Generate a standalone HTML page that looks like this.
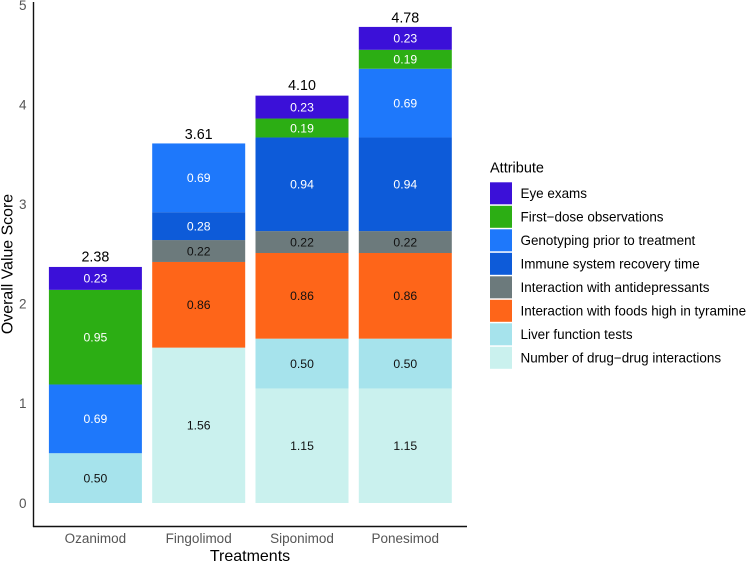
<!DOCTYPE html>
<html>
<head>
<meta charset="utf-8">
<style>
html,body{margin:0;padding:0;background:#fff;}
svg{display:block;font-family:"Liberation Sans",Arial,sans-serif;}
</style>
</head>
<body>
<svg id="chart" width="747" height="562" viewBox="0 0 747 562" xmlns="http://www.w3.org/2000/svg"></svg>
<script>
const treatments = ['Ozanimod', 'Fingolimod', 'Siponimod', 'Ponesimod'];
const attributes = ['Eye exams', 'First\u2212dose observations', 'Genotyping prior to treatment', 'Immune system recovery time', 'Interaction with antidepressants', 'Interaction with foods high in tyramine', 'Liver function tests', 'Number of drug\u2212drug interactions'];
const attributeColors = ['#3b10d8', '#2cae14', '#1e78fb', '#0d5bd9', '#6c7a7c', '#fe6519', '#a6e3ec', '#caf1ee'];
const labelColors = ['#fff', '#fff', '#fff', '#fff', '#111', '#111', '#111', '#111'];
const eyeExams = [0.23, 0, 0.23, 0.23];
const firstDose = [0.95, 0, 0.19, 0.19];
const genotyping = [0.69, 0.69, 0, 0.69];
const immuneRecovery = [0, 0.28, 0.94, 0.94];
const antidepressants = [0, 0.22, 0.22, 0.22];
const tyramine = [0, 0.86, 0.86, 0.86];
const liverTests = [0.50, 0, 0.50, 0.50];
const drugInteractions = [0, 1.56, 1.15, 1.15];
const totals = [2.38, 3.61, 4.10, 4.78];
const yTicks = [0, 1, 2, 3, 4, 5];

const series = [eyeExams, firstDose, genotyping, immuneRecovery, antidepressants, tyramine, liverTests, drugInteractions];
const svg = document.getElementById('chart');
const NS = 'http://www.w3.org/2000/svg';
function add(tag, attrs, text) {
  const el = document.createElementNS(NS, tag);
  for (const k in attrs) el.setAttribute(k, attrs[k]);
  if (text !== undefined) el.textContent = text;
  svg.appendChild(el);
  return el;
}
function y(v) { return 503 - v * 99.6; }
const barWidth = 93;
function xCenter(i) { return 95.4 + i * 103.3; }
function slug(s) { return s.toLowerCase().replace(/[^a-z0-9]+/g, '-'); }

// bars: stacked from bottom (last series) upward
treatments.forEach(function (t, i) {
  let base = 0;
  for (let s = series.length - 1; s >= 0; s--) {
    const v = series[s][i];
    if (!v) continue;
    const rect = add('rect', { x: xCenter(i) - barWidth / 2, y: y(base + v), width: barWidth, height: v * 99.6, fill: attributeColors[s] });
    
    
    const lab = add('text', { x: xCenter(i), y: y(base + v / 2) + 4.3, 'text-anchor': 'middle', 'font-size': 12.2, fill: labelColors[s] }, v.toFixed(2));
    
    
    base += v;
  }
  const total = add('text', { x: xCenter(i), y: y(totals[i]) - 4.5, 'text-anchor': 'middle', 'font-size': 14.3, fill: '#000' }, totals[i].toFixed(2));
  
  
  const tick = add('text', { x: xCenter(i), y: 543, 'text-anchor': 'middle', 'font-size': 13.5, fill: '#555' }, t);
  
  
});

// axes
const yAxis = add('line', { x1: 33.5, y1: 2, x2: 33.5, y2: 527, stroke: '#111', 'stroke-width': 1.4 });


const xAxis = add('line', { x1: 33, y1: 526.5, x2: 467, y2: 526.5, stroke: '#111', 'stroke-width': 1.4 });


yTicks.forEach(function (v) {
  const t = add('text', { x: 26.5, y: y(v) + 4.8, 'text-anchor': 'end', 'font-size': 13.5, fill: '#555' }, String(v));
  
  
});

// axis titles
const xTitle = add('text', { x: 250, y: 561, 'text-anchor': 'middle', 'font-size': 16, fill: '#000' }, 'Treatments');


const yTitle = add('text', { x: 0, y: 0, transform: 'translate(12.7 264) rotate(-90)', 'text-anchor': 'middle', 'font-size': 15.9, fill: '#000' }, 'Overall Value Score');



// legend
const legendTitle = add('text', { x: 490, y: 172.5, 'font-size': 14.5, fill: '#000' }, 'Attribute');


attributes.forEach(function (a, i) {
  const top = 182.3 + i * 23.5;
  const sw = add('rect', { x: 490, y: top, width: 22, height: 22, fill: attributeColors[i] });
  
  
  const tx = add('text', { x: 520.5, y: top + 15.6, 'font-size': 13.45, fill: '#000' }, a);
  
  
});
</script>
</body>
</html>
